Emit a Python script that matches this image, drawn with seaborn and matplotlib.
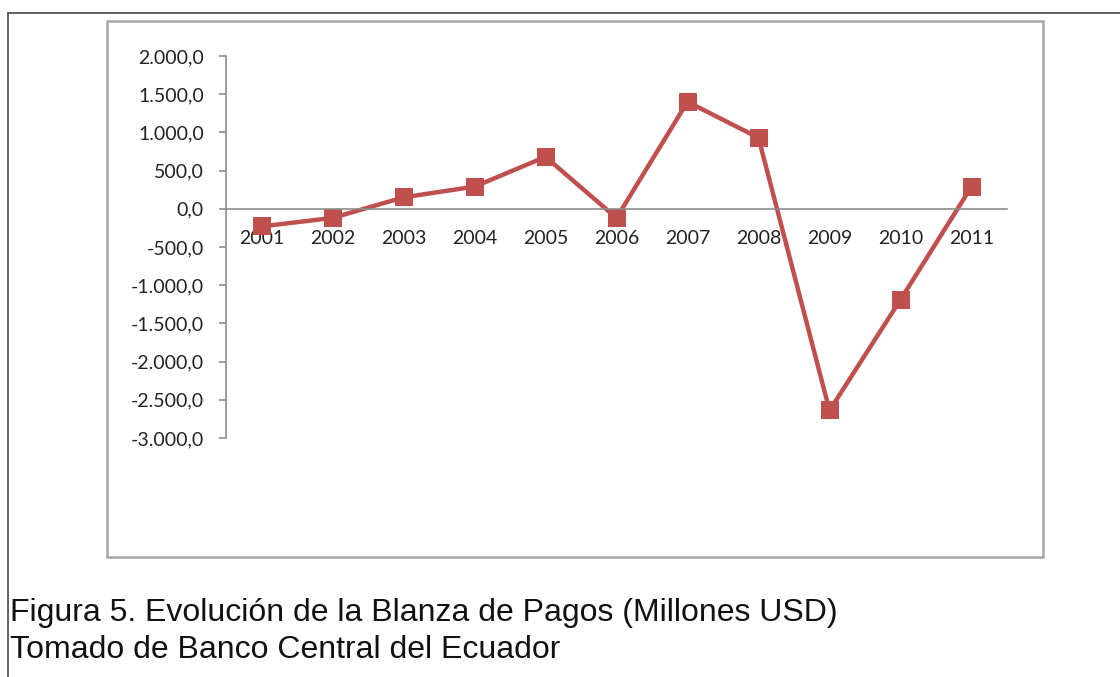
import matplotlib
matplotlib.use('Agg')
import matplotlib.pyplot as plt
import matplotlib.ticker as mticker
from matplotlib.patches import Rectangle
from matplotlib.lines import Line2D
import seaborn as sns
import pandas as pd

# Datos de la balanza de pagos (millones USD)
anios = ['2001', '2002', '2003', '2004', '2005', '2006',
         '2007', '2008', '2009', '2010', '2011']
saldo = [-230, -120, 150, 290, 680, -120, 1400, 930, -2640, -1190, 290]
y_ticks = [2000, 1500, 1000, 500, 0, -500, -1000, -1500, -2000, -2500, -3000]
caption = ['Figura 5. Evolución de la Blanza de Pagos (Millones USD)',
           'Tomado de Banco Central del Ecuador']

df = pd.DataFrame({'anio': anios, 'saldo': saldo})

sns.set_theme(style='white')
plt.rcParams['font.family'] = ['Lato', 'DejaVu Sans']

fig = plt.figure(figsize=(11.2, 6.77), dpi=100)
ax = fig.add_axes([226 / 1120, 1 - 438 / 677, (1007 - 226) / 1120, (438 - 56) / 677])

color = '#C0504D'
sns.lineplot(data=df, x='anio', y='saldo', ax=ax, color=color, linewidth=3.2,
             marker='s', markersize=12.5, markeredgewidth=0, sort=False)

# Ejes
ax.set_xlim(-0.5, len(anios) - 0.5)
ax.set_ylim(-3000, 2000)
ax.set_yticks(y_ticks)

def fmt_es(v, pos):
    s = f'{v:,.1f}'
    return s.replace(',', 'X').replace('.', ',').replace('X', '.')

ax.yaxis.set_major_formatter(mticker.FuncFormatter(fmt_es))
ax.set_xlabel('')
ax.set_ylabel('')

for s in ['top', 'right']:
    ax.spines[s].set_visible(False)
ax.spines['bottom'].set_position(('data', 0))
ax.spines['bottom'].set_color('#8c8c8c')
ax.spines['left'].set_color('#8c8c8c')
ax.spines['bottom'].set_linewidth(1.2)
ax.spines['left'].set_linewidth(1.2)

ax.set_xticks([i - 0.5 for i in range(len(anios) + 1)], minor=True)
ax.tick_params(axis='x', which='major', length=0, pad=15, labelsize=14, labelcolor='#222222')
ax.tick_params(axis='x', which='minor', length=5, width=1.2, color='#8c8c8c', direction='out')
ax.tick_params(axis='y', which='major', length=5, width=1.2, color='#8c8c8c', left=True,
               pad=11, labelsize=14, labelcolor='#222222')
ax.grid(False)

# Marcos
fig.add_artist(Rectangle((107 / 1120, 1 - 557 / 677), (1043 - 107) / 1120, (557 - 21) / 677,
                         transform=fig.transFigure, fill=False, edgecolor='#a6a6a6', linewidth=1.8))
fig.add_artist(Line2D([8 / 1120, 1], [1 - 13 / 677, 1 - 13 / 677], transform=fig.transFigure,
                      color='#555555', linewidth=1.3))
fig.add_artist(Line2D([8 / 1120, 8 / 1120], [0, 1 - 13 / 677], transform=fig.transFigure,
                      color='#555555', linewidth=1.3))

# Pie de figura
for i, line in enumerate(caption):
    fig.text(10 / 1120, 1 - (621 + i * 37) / 677, line, fontsize=23,
             family=['Liberation Sans', 'DejaVu Sans'],
             color='#111111', ha='left', va='baseline')

fig.savefig('out.png', dpi=100)
